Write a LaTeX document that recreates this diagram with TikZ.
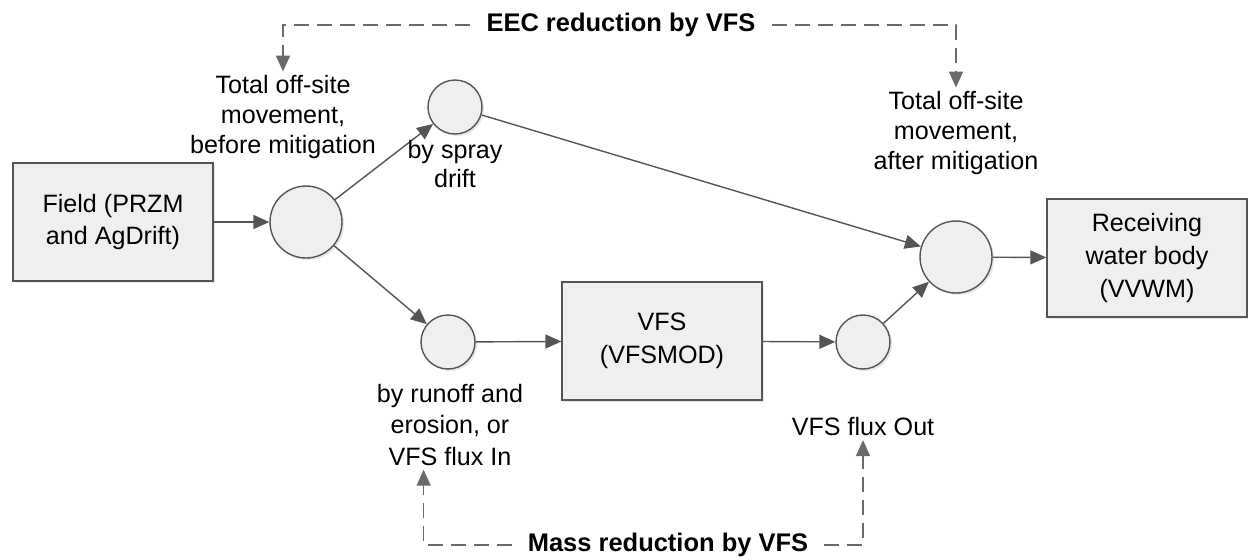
\documentclass[tikz,border=0pt]{standalone}
\usepackage{fontspec}
\setmainfont{Liberation Sans}
\usepackage{tikz}
\usetikzlibrary{arrows.meta,shadows}
\definecolor{lineg}{HTML}{555555}
\definecolor{dashg}{HTML}{6A6A6A}
\definecolor{boxfill}{HTML}{EFEFEF}

\begin{document}
\begin{tikzpicture}[
  x=0.02cm, y=-0.02cm,
  font=\fontsize{14.3}{17}\selectfont,
  box/.style={draw=lineg, line width=0.8pt, fill=boxfill,
              minimum width=4cm, minimum height=2.36cm, align=center,
              font=\fontsize{14.3}{18.7}\selectfont,
              drop shadow={opacity=0.18, shadow xshift=1.2pt, shadow yshift=-1.2pt}},
  junc/.style={circle, draw=lineg, line width=0.8pt, fill=boxfill,
               inner sep=0pt, minimum size=1.08cm,
               drop shadow={opacity=0.18, shadow xshift=1.2pt, shadow yshift=-1.2pt}},
  bigjunc/.style={junc, minimum size=1.44cm},
  lbl/.style={align=center, inner sep=2pt},
  note/.style={font=\fontsize{14.5}{17}\selectfont\bfseries,
               inner xsep=9pt, inner ysep=3pt},
  ar/.style={-{Triangle[length=3.2mm, width=2.8mm]}, lineg, line width=0.8pt},
  dar/.style={ar, dashg, dash pattern=on 3mm off 1.6mm},
]
\useasboundingbox (0,0) rectangle (1248,559);

% main chain
\node[box] (field) at (113,222) {Field (PRZM\\and AgDrift)};
\node[bigjunc] (split) at (306,222) {};
\node[junc] (spray) at (455,107) {};
\node[junc] (runoff) at (448,342) {};
\node[box] (vfs) at (662,341) {VFS\\(VFSMOD)};
\node[junc] (out) at (863,342) {};
\node[bigjunc] (after) at (956,257) {};
\node[box] (recv) at (1147,258) {Receiving\\water body\\(VVWM)};
\foreach \a/\b in {field/split, split/spray, split/runoff, spray/after,
                   runoff/vfs, vfs/out, out/after, after/recv} {
  \draw[ar] (\a) -- (\b);
}

% labels
\node[lbl] (before) at (283,117) {Total off-site\\movement,\\before mitigation};
\node[lbl] (drift) at (455,164) {by spray\\drift};
\node[lbl] (afterlbl) at (956,133) {Total off-site\\movement,\\after mitigation};
\node[lbl, font=\fontsize{14.3}{18}\selectfont] (fluxin) at (450,425)
  {by runoff and\\erosion, or\\VFS flux In};
\node[lbl] (fluxout) at (863,427) {VFS flux Out};

% reductions
\node[note] (eec) at (621,25) {EEC reduction by VFS};
\node[note] (mass) at (668,545) {Mass reduction by VFS};
\draw[dar] (eec.west) -| (before);
\draw[dar] (eec.east) -| (afterlbl);
\draw[dar] (mass.west) -| ([xshift=-15]fluxin.south);
\draw[dar] (mass.east) -| (fluxout);
\end{tikzpicture}
\end{document}
